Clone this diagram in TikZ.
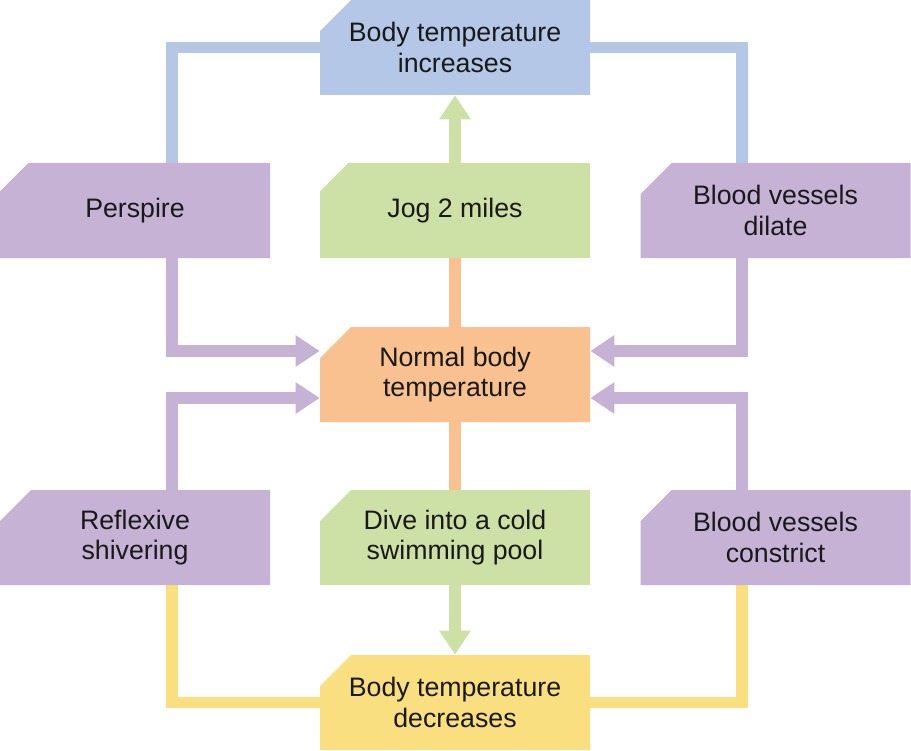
\documentclass[tikz,border=0pt]{standalone}
\usepackage{fontspec}
\setmainfont{Liberation Sans}
\usepackage{tikz}
\usetikzlibrary{shapes.misc, arrows.meta, positioning, backgrounds, calc}
\definecolor{tempblue}{RGB}{180,199,231}
\definecolor{actgreen}{RGB}{205,224,166}
\definecolor{normorange}{RGB}{248,193,143}
\definecolor{respurple}{RGB}{197,178,213}
\definecolor{coldyellow}{RGB}{249,223,128}
\definecolor{labeltext}{RGB}{25,25,25}

\begin{document}
\begin{tikzpicture}[
    box/.style={chamfered rectangle, chamfered rectangle corners=north west,
        chamfered rectangle xsep=0.3cm, chamfered rectangle ysep=0.32cm,
        minimum width=5.4cm, minimum height=1.9cm, inner sep=0pt, draw=none,
        text=labeltext, align=center, font=\fontsize{15.2}{17.2}\selectfont},
    link/.style={line width=0.23cm},
    arrow/.style={link, -{Triangle[width=0.6cm, length=0.48cm]}}
]
    \useasboundingbox (0,0) rectangle (18.22,15);

    \node[box, fill=tempblue] (up) at (9.1,14.05) {Body temperature\\increases};
    \node[box, fill=actgreen] (jog) at (9.1,10.79) {Jog 2 miles};
    \node[box, fill=normorange] (normal) at (9.1,7.51) {Normal body\\temperature};
    \node[box, fill=actgreen] (dive) at (9.1,4.25) {Dive into a cold\\swimming pool};
    \node[box, fill=coldyellow] (down) at (9.1,0.95) {Body temperature\\decreases};

    \node[box, fill=respurple] (perspire) at (2.7,10.79) {Perspire};
    \node[box, fill=respurple] (shiver) at (2.7,4.25) {Reflexive\\shivering};
    \node[box, fill=respurple] (dilate) at (15.51,10.79) {Blood vessels\\dilate};
    \node[box, fill=respurple] (constrict) at (15.51,4.25) {Blood vessels\\constrict};

    \coordinate (lx) at (3.44,0);
    \coordinate (rx) at (14.84,0);

    \begin{scope}[on background layer]
        \draw[link, tempblue] (perspire.north -| lx) |- (up.west);
        \draw[link, tempblue] (dilate.north -| rx) |- (up.east);
        \draw[link, coldyellow] (shiver.south -| lx) |- (down.west);
        \draw[link, coldyellow] (constrict.south -| rx) |- (down.east);
        \draw[link, normorange] (normal.north) -- (jog.south);
        \draw[link, normorange] (normal.south) -- (dive.north);
    \end{scope}

    \draw[arrow, actgreen] (jog.north) -- (up.south);
    \draw[arrow, actgreen] (dive.south) -- (down.north);
    \draw[arrow, respurple] (perspire.south -| lx) |- ([yshift=0.47cm]normal.west);
    \draw[arrow, respurple] (shiver.north -| lx) |- ([yshift=-0.47cm]normal.west);
    \draw[arrow, respurple] (dilate.south -| rx) |- ([yshift=0.47cm]normal.east);
    \draw[arrow, respurple] (constrict.north -| rx) |- ([yshift=-0.47cm]normal.east);
\end{tikzpicture}
\end{document}
